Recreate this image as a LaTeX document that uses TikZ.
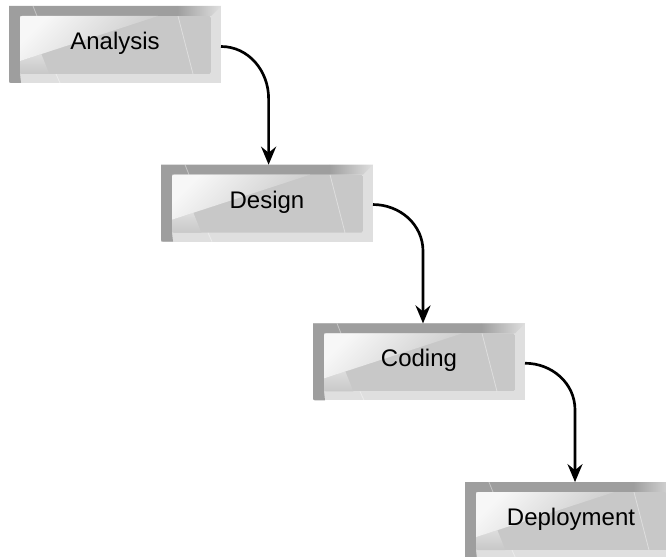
\documentclass[tikz,border=0pt]{standalone}
\usepackage{fontspec}
\setmainfont{Liberation Sans}
\usetikzlibrary{arrows.meta,calc}
\definecolor{frameDark}{HTML}{9E9E9E}
\definecolor{frameLight}{HTML}{DFDFDF}
\definecolor{faceHi}{HTML}{F7F7F7}
\definecolor{faceStreak}{HTML}{CDCDCD}
\definecolor{faceLow}{HTML}{DDDDDD}
\definecolor{faceGray}{HTML}{C8C8C8}
\newcommand\boxdeco{%
  \coordinate (bxNW) at (path picture bounding box.north west);
  \coordinate (bxNE) at (path picture bounding box.north east);
  \coordinate (bxSW) at (path picture bounding box.south west);
  \coordinate (bxSE) at (path picture bounding box.south east);
  \coordinate (fcNW) at ($(bxNW)+(8.25pt,-7.5pt)$);
  % light right and bottom bands
  \fill[frameLight] (bxSW) rectangle (bxNE);
  % dark left band and most of the top band
  \fill[frameDark] (bxNW) -- ($(bxNW)+(126pt,0pt)$) -- ($(bxNW)+(126pt,-7.5pt)$)
    -- (fcNW) -- ($(bxSW)+(8.25pt,6.75pt)$) -- ($(bxSW)+(9pt,0pt)$)
    -- ($(bxSW)+(1.5pt,0pt)$) to[out=180,in=-90] ($(bxSW)+(0pt,1.5pt)$) -- cycle;
  % top band fading to light at its right end
  \shade[left color=frameDark, right color=frameLight]
    ($(bxNW)+(126pt,0pt)$) -- (bxNE) -- ($(bxNE)+(-7.5pt,-7.5pt)$)
    -- ($(bxNW)+(126pt,-7.5pt)$) -- cycle;
  % face
  \begin{scope}
    \clip[rounded corners=1.5pt] (fcNW) rectangle ($(bxSE)+(-7.5pt,6.75pt)$);
    \fill[faceGray] (fcNW) rectangle ($(bxSE)+(-7.5pt,6.75pt)$);
    \shade[top color=faceLow, bottom color=faceGray]
      ($(fcNW)+(0pt,-33.75pt)$) -- ($(fcNW)+(0pt,-43.5pt)$) -- ($(fcNW)+(22pt,-43.5pt)$)
      -- ($(fcNW)+(16pt,-28.5pt)$) -- cycle;
    \shade[top color=faceHi, middle color=faceStreak, bottom color=faceGray, shading angle=45]
      (fcNW) -- ($(fcNW)+(103.5pt,0pt)$) -- ($(fcNW)+(0pt,-33.75pt)$) -- cycle;
  \end{scope}
  \draw[glint] ($(bxNW)+(18pt,0pt)$) -- ($(bxNW)+(21pt,-7.5pt)$);
  \draw[glint] ($(bxNW)+(35.25pt,-51pt)$) -- ($(bxNW)+(38.25pt,-57.75pt)$);
  \draw[glint] ($(bxNW)+(126.75pt,-7.5pt)$) -- ($(bxNW)+(138pt,-51pt)$);
}
\tikzset{
  glint/.style={white, opacity=0.4, line width=0.6pt},
  stepbox/.style={minimum width=159pt, minimum height=57.75pt, inner sep=0pt,
    outer sep=0pt, font=\fontsize{18}{20}\selectfont, text=black,
    text height=0.72em, text depth=0pt, path picture={\boxdeco}},
  flow/.style={line width=2pt, -{Stealth[length=13.5pt,width=11.25pt,inset=4.5pt]}}
}
\begin{document}
\begin{tikzpicture}[x=0.75pt,y=0.75pt]
\useasboundingbox (0,0) rectangle (666,-556);
\clip (0,0) rectangle (666,-556);
\node[stepbox] (analysis) at (115,-44.5) {Analysis};
\node[stepbox] (design) at (267,-203.2) {Design};
\node[stepbox] (coding) at (419,-361.9) {Coding};
\node[stepbox] (deploy) at (571,-520.6) {Deployment};
\coordinate (s1) at ([yshift=-1.5pt]analysis.east);
\coordinate (e1) at ([xshift=1.2pt]design.north);
\coordinate (s2) at ([yshift=-1pt]design.east);
\coordinate (e2) at ([xshift=3pt]coding.north);
\coordinate (s3) at ([yshift=-1pt]coding.east);
\coordinate (e3) at ([xshift=3pt]deploy.north);
\draw[flow] (s1) to[out=0,in=90] ($(e1|-s1)+(0,-39pt)$) -- (e1);
\draw[flow] (s2) to[out=0,in=90] ($(e2|-s2)+(0,-35pt)$) -- (e2);
\draw[flow] (s3) to[out=0,in=90] ($(e3|-s3)+(0,-35pt)$) -- (e3);
\end{tikzpicture}
\end{document}
